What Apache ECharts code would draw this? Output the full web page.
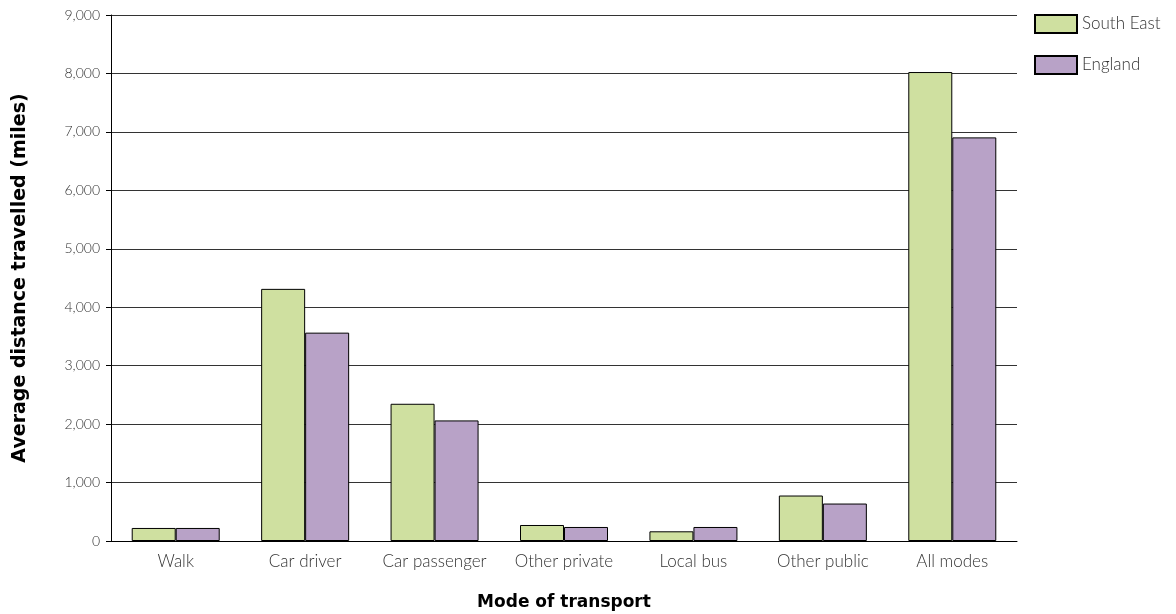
<!DOCTYPE html>
<html><head><meta charset="utf-8">
<script src="https://cdn.jsdelivr.net/npm/echarts@6/dist/echarts.min.js"></script>
<style>html,body{margin:0;padding:0;background:#fff}#c{width:1176px;height:614px}</style>
</head><body><div id="c"></div>
<script>
var categories = ['Walk','Car driver','Car passenger','Other private','Local bus','Other public','All modes'];
var southEast = [223, 4314, 2348, 274, 166, 778, 8024];
var england = [223, 3565, 2063, 240, 240, 641, 6906];
var yTicks = {min: 0, max: 9000, interval: 1000};

var chart = echarts.init(document.getElementById('c'), null, {renderer:'canvas'});
var tickFont = 'Lato, "Open Sans", sans-serif';
chart.setOption({
  animation: false,
  grid: {left: 111, right: 159, top: 15, bottom: 73, containLabel: false, outerBoundsMode: 'none'},
  legend: {
    orient: 'vertical', left: 1034, top: 14, padding: 0, itemWidth: 42, itemHeight: 18, itemGap: 21,
    icon: 'rect',
    textStyle: {fontFamily: tickFont, fontWeight: 300, fontSize: 17, color: '#333'},
    data: ['South East','England']
  },
  xAxis: {
    type: 'category', data: categories,
    name: 'Mode of transport', nameLocation: 'middle', nameGap: 53,
    nameTextStyle: {fontFamily: '"DejaVu Sans", Verdana, sans-serif', fontWeight: 'bold', fontSize: 17, color: '#000'},
    axisLine: {lineStyle: {color: '#000', width: 1}},
    axisTick: {show: false},
    axisLabel: {interval: 0, fontFamily: tickFont, fontWeight: 300, fontSize: 17, color: '#333', margin: 12}
  },
  yAxis: {
    type: 'value', min: yTicks.min, max: yTicks.max, interval: yTicks.interval,
    name: 'Average distance travelled (miles)', nameLocation: 'middle', nameGap: 81,
    nameTextStyle: {fontFamily: '"DejaVu Sans", Verdana, sans-serif', fontWeight: 'bold', fontSize: 19, color: '#000'},
    axisLine: {show: true, lineStyle: {color: '#000', width: 1}},
    axisTick: {show: true, length: 5, lineStyle: {color: '#000'}},
    splitLine: {lineStyle: {color: '#333', width: 1}},
    axisLabel: {fontFamily: tickFont, fontWeight: 300, fontSize: 14, color: '#333', margin: 11,
      formatter: function(v){ return v.toLocaleString('en-US'); }}
  },
  series: [
    {name: 'South East', type: 'bar', data: southEast, barWidth: 44, barGap: '0%',
     itemStyle: {color: '#cfe0a0', borderColor: '#000', borderWidth: 1}},
    {name: 'England', type: 'bar', data: england, barWidth: 44, barGap: '0%',
     itemStyle: {color: '#b8a2c7', borderColor: '#000', borderWidth: 1}}
  ]
});
</script></body></html>
